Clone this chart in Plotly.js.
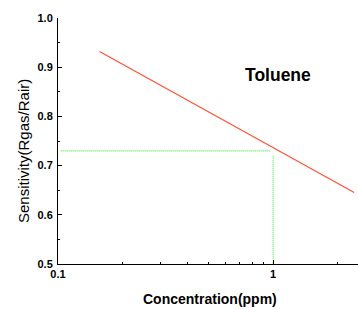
<!DOCTYPE html>
<html>
<head>
<meta charset="utf-8">
<script src="https://cdn.plot.ly/plotly-3.0.1.min.js"></script>
<style>html,body{margin:0;padding:0;background:#fff;}#chart{width:358px;height:309px;}</style>
</head>
<body>
<div id="chart"></div>
<script>
// Fitted sensitivity line (Toluene)
const fitConc = [0.156, 2.38];
const fitSens = [0.932, 0.6455];
// Guide lines (dotted green)
const guideHConc = [0.103, 0.97];
const guideHSens = [0.730, 0.730];
const guideVConc = [1.0, 1.0];
const guideVSens = [0.72, 0.5];
// Axis ticks
const xTickVals = [0.1, 1];
const xTickText = ['0.1', '1'];
const xMinorVals = [0.2, 0.3, 0.4, 0.5, 0.6, 0.7, 0.8, 0.9, 2];
const yTickVals = [0.5, 0.6, 0.7, 0.8, 0.9, 1.0];
const yTickText = ['0.5', '0.6', '0.7', '0.8', '0.9', '1.0'];

const fontF = 'Arial, "Liberation Sans", sans-serif';

const traces = [
  {x: fitConc, y: fitSens, mode: 'lines', line: {color: '#ff5030', width: 1.2}, hoverinfo: 'none'},
  {x: guideHConc, y: guideHSens, mode: 'lines', line: {color: '#55ee55', width: 1.2, dash: '1px,1px'}, hoverinfo: 'none'},
  {x: guideVConc, y: guideVSens, mode: 'lines', line: {color: '#55ee55', width: 1.2, dash: '1px,1px'}, hoverinfo: 'none'}
];

const layout = {
  width: 358, height: 309,
  margin: {l: 58, r: 0, t: 18, b: 45},
  paper_bgcolor: '#fff', plot_bgcolor: '#fff',
  showlegend: false,
  font: {family: fontF, color: '#000'},
  xaxis: {
    type: 'log', range: [-1, Math.log10(2.48)],
    showgrid: false, zeroline: false,
    showline: true, linecolor: '#000', linewidth: 1,
    ticks: 'inside', ticklen: 4, tickwidth: 1, tickcolor: '#000',
    tickmode: 'array', tickvals: xTickVals, ticktext: xTickText,
    tickfont: {family: fontF, size: 11, weight: 'bold'},
    ticklabelstandoff: 0,
    minor: {tickmode: 'array', tickvals: xMinorVals, ticks: 'inside', ticklen: 2.5, tickcolor: '#000', showgrid: false}
  },
  yaxis: {
    range: [0.5, 1.0],
    showgrid: false, zeroline: false,
    showline: true, linecolor: '#000', linewidth: 1,
    ticks: 'inside', ticklen: 4, tickwidth: 1, tickcolor: '#000',
    tickmode: 'array', tickvals: yTickVals, ticktext: yTickText,
    tickfont: {family: fontF, size: 11, weight: 'bold'},
    ticklabelstandoff: 2,
    minor: {dtick: 0.05, ticks: 'inside', ticklen: 2, tickcolor: '#000', showgrid: false}
  },
  annotations: [
    {text: 'Toluene', xref: 'paper', yref: 'paper', x: (278 - 58) / 300, y: (264 - 75) / 246,
     xanchor: 'center', yanchor: 'middle', showarrow: false,
     font: {family: fontF, size: 17.5, weight: 'bold', color: '#000'}},
    {text: 'Concentration(ppm)', xref: 'paper', yref: 'paper', x: (210 - 58) / 300, y: (264 - 299) / 246,
     xanchor: 'center', yanchor: 'middle', showarrow: false,
     font: {family: fontF, size: 14, weight: 'bold', color: '#000'}},
    {text: 'Sensitivity(Rgas/Rair)', xref: 'paper', yref: 'paper', x: (23 - 58) / 300, y: (264 - 151) / 246,
     xanchor: 'center', yanchor: 'middle', textangle: -90, showarrow: false,
     font: {family: fontF, size: 15, color: '#000'}}
  ]
};

Plotly.newPlot('chart', traces, layout, {displayModeBar: false, staticPlot: true});
</script>
</body>
</html>
